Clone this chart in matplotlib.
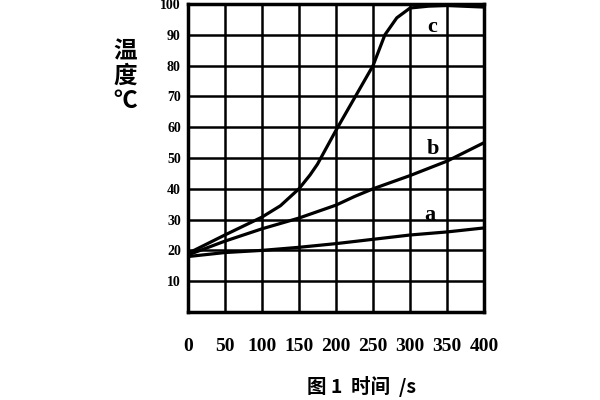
import matplotlib
matplotlib.use('Agg')
import matplotlib.pyplot as plt

# temperature curves (time in s, temperature in C)
time_c = [0, 50, 100, 125, 150, 165, 175, 200, 225, 250, 266, 282, 300, 325, 350, 400]
temp_c = [19, 25, 30.8, 34.5, 40, 44.5, 48, 59, 69.5, 80, 90, 95.5, 98.7, 99.3, 99.5, 99]

time_b = [0, 50, 100, 150, 200, 225, 250, 300, 350, 400]
temp_b = [18.5, 23, 27, 30.5, 34.7, 37.5, 40, 44.3, 49, 55]

time_a = [0, 50, 100, 150, 200, 250, 300, 350, 400]
temp_a = [18, 19.3, 20, 21, 22.2, 23.6, 25, 26, 27.3]

x_ticks = [0, 50, 100, 150, 200, 250, 300, 350, 400]
y_ticks = [10, 20, 30, 40, 50, 60, 70, 80, 90, 100]

cjk = ['Noto Sans CJK SC', 'DejaVu Sans']
serif = 'Liberation Serif'

fig = plt.figure(figsize=(6, 4), dpi=100)
ax = fig.add_axes([0.313, 0.22, 0.494, 0.77])

for t, v in [(time_a, temp_a), (time_b, temp_b), (time_c, temp_c)]:
    ax.plot(t, v, color='black', lw=2.3, solid_capstyle='round',
            solid_joinstyle='round', zorder=3)

ax.text(327, 31.5, 'a', fontsize=16, fontweight='bold', family=serif, ha='center', va='center')
ax.text(331, 53, 'b', fontsize=16, fontweight='bold', family=serif, ha='center', va='center')
ax.text(330, 92.5, 'c', fontsize=16, fontweight='bold', family=serif, ha='center', va='center')

ax.set_xlim(0, 400)
ax.set_ylim(0, 100)
ax.set_xticks(x_ticks)
ax.set_yticks(y_ticks)
ax.set_xticklabels([str(v) for v in x_ticks], fontsize=14, fontweight='bold', family=serif)
ax.set_yticklabels([str(v) for v in y_ticks], fontsize=10, fontweight='bold', family=serif)
ax.tick_params(axis='x', length=0, pad=19)
ax.tick_params(axis='y', length=0, pad=5)
ax.grid(True, color='black', lw=1.8)
ax.set_axisbelow(True)
for s in ax.spines.values():
    s.set_linewidth(2.5)

fig.text(0.208, 0.81, '温\n度\n℃', fontsize=17, fontweight='bold', family=cjk,
         ha='center', va='center', linespacing=1.05)
fig.text(0.603, 0.033, '图 1  时间  /s', fontsize=14, fontweight='bold', family=cjk,
         ha='center', va='center')

fig.savefig('out.png', dpi=100)
